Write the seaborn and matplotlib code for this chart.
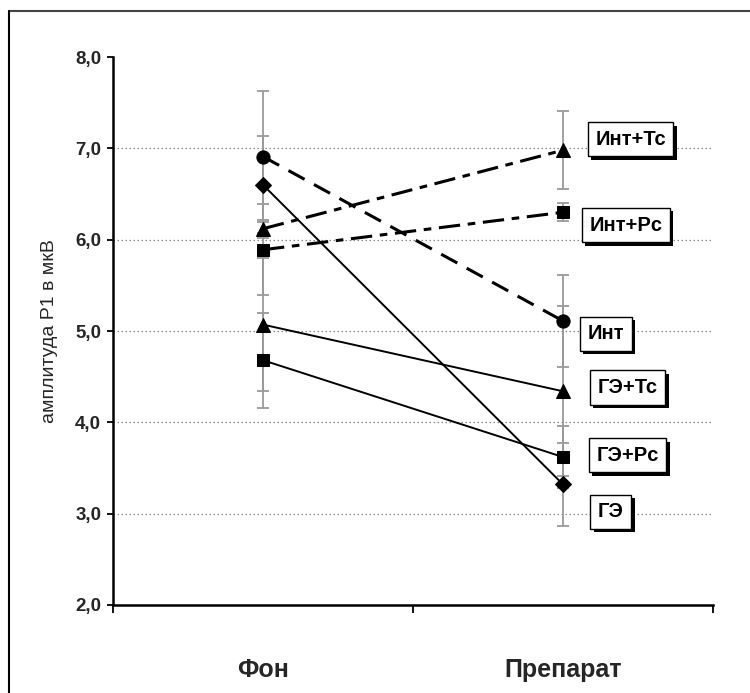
import numpy as np
import pandas as pd
import matplotlib
matplotlib.use("Agg")
import matplotlib.pyplot as plt
import matplotlib.patheffects as pe
from matplotlib.lines import Line2D
import seaborn as sns

# ---- data ----
categories = ["Фон", "Препарат"]
series_names = ["Инт+Тс", "Инт+Рс", "Инт", "ГЭ+Тс", "ГЭ+Рс", "ГЭ"]
int_tc = [6.12, 6.98]
int_rc = [5.89, 6.30]
int_ = [6.91, 5.11]
ge_tc = [5.07, 4.34]
ge_rc = [4.68, 3.62]
ge = [6.60, 3.32]
err_int_tc = [0.10, 0.43]
err_int_rc = [0.50, 0.10]
err_int = [0.72, 0.50]
err_ge_tc = [0.73, 0.93]
err_ge_rc = [0.52, 0.34]
err_ge = [0.53, 0.45]
y_ticks = [2.0, 3.0, 4.0, 5.0, 6.0, 7.0, 8.0]
y_label = "амплитуда P1 в мкВ"

values = [int_tc, int_rc, int_, ge_tc, ge_rc, ge]
errors = [err_int_tc, err_int_rc, err_int, err_ge_tc, err_ge_rc, err_ge]

xpos = np.arange(len(categories))
rows = []
for name, vals, errs in zip(series_names, values, errors):
    for xi, v, e in zip(xpos, vals, errs):
        rows.append({"series": name, "x": xi, "y": v, "err": e})
df = pd.DataFrame(rows)

# ---- styles ----
markers = {"Инт+Тс": "^", "Инт+Рс": "s", "Инт": "o",
           "ГЭ+Тс": "^", "ГЭ+Рс": "s", "ГЭ": "D"}
dashes = {"Инт+Тс": (7, 2.5, 2.5, 2.5), "Инт+Рс": (7, 2.5, 2.5, 2.5),
          "Инт": (6, 3.5), "ГЭ+Тс": "", "ГЭ+Рс": "", "ГЭ": ""}
widths = {"Инт+Тс": 2.2, "Инт+Рс": 2.2, "Инт": 2.2,
          "ГЭ+Тс": 1.4, "ГЭ+Рс": 1.4, "ГЭ": 1.4}
msize = {"^": 10, "s": 9, "o": 9.5, "D": 8}
label_pos = {"Инт+Тс": (1.225, 7.10), "Инт+Рс": (1.209, 6.16),
             "Инт": (1.142, 4.97), "ГЭ+Тс": (1.215, 4.38),
             "ГЭ+Рс": (1.215, 3.64), "ГЭ": (1.159, 3.02)}

sns.set_theme(style="white")
plt.rcParams["font.family"] = ["Liberation Sans", "DejaVu Sans"]

fig = plt.figure(figsize=(7.5, 6.93), dpi=100)
ax = fig.add_axes([0.1507, 0.127, 0.80, 0.7907])

# error bars
for name in series_names:
    sub = df[df.series == name]
    ax.errorbar(sub.x, sub.y, yerr=sub.err, fmt="none", ecolor="#9a9a9a",
                elinewidth=1.3, capsize=4.5, capthick=1.3, zorder=1)

for name in series_names:
    sub = df[df.series == name]
    m = markers[name]
    sns.lineplot(data=sub, x="x", y="y", ax=ax, color="black",
                 marker=m, markersize=msize[m], markeredgecolor="black",
                 markerfacecolor="black", linewidth=widths[name],
                 dashes=False, legend=False, errorbar=None, zorder=3,
                 **({"linestyle": (0, dashes[name])} if dashes[name] else {}))

for name in series_names:
    x, y = label_pos[name]
    t = ax.text(x, y, name, ha="center", va="center", fontsize=14.5,
                fontweight="bold", color="black", zorder=5,
                bbox=dict(boxstyle="square,pad=0.38", fc="white", ec="black", lw=1.0))
    t.get_bbox_patch().set_path_effects([
        pe.SimplePatchShadow(offset=(2.5, -2.5), shadow_rgbFace="black", alpha=1.0),
        pe.Normal()])

ax.set_xlim(-0.5, 1.5)
ax.set_ylim(2.0, 8.0)
ax.set_yticks(y_ticks)
ax.set_yticklabels([f"{v:.1f}".replace(".", ",") for v in y_ticks],
                   fontsize=13.5, fontweight="bold")
ax.set_xticks(xpos)
ax.set_xticklabels(categories, fontsize=18, fontweight="bold")
ax.set_xticks([-0.5, 0.5, 1.5], minor=True)
ax.tick_params(axis="x", which="major", length=0, pad=38)
ax.tick_params(axis="x", which="minor", length=6, width=1.3, direction="out",
               bottom=True, color="black")
ax.tick_params(axis="y", length=4.5, width=1.3, direction="out", left=True,
               pad=4, color="black")
ax.set_xlabel("")
ax.set_ylabel(y_label, fontsize=14, labelpad=12)

for v in y_ticks[1:-1]:
    ax.axhline(v, color="#888888", lw=0.9, ls=(0, (1.2, 2)), zorder=0)

sns.despine(ax=ax, top=True, right=True)
for s in ["left", "bottom"]:
    ax.spines[s].set_color("black")
    ax.spines[s].set_linewidth(1.8)

# outer frame (top & left edges visible)
fig.add_artist(Line2D([0.012, 1.0], [0.984, 0.984], color="#444444", lw=1.5))
fig.add_artist(Line2D([0.012, 0.012], [0.0, 0.984], color="black", lw=1.5))

fig.savefig("out.png", dpi=100, facecolor="white")
